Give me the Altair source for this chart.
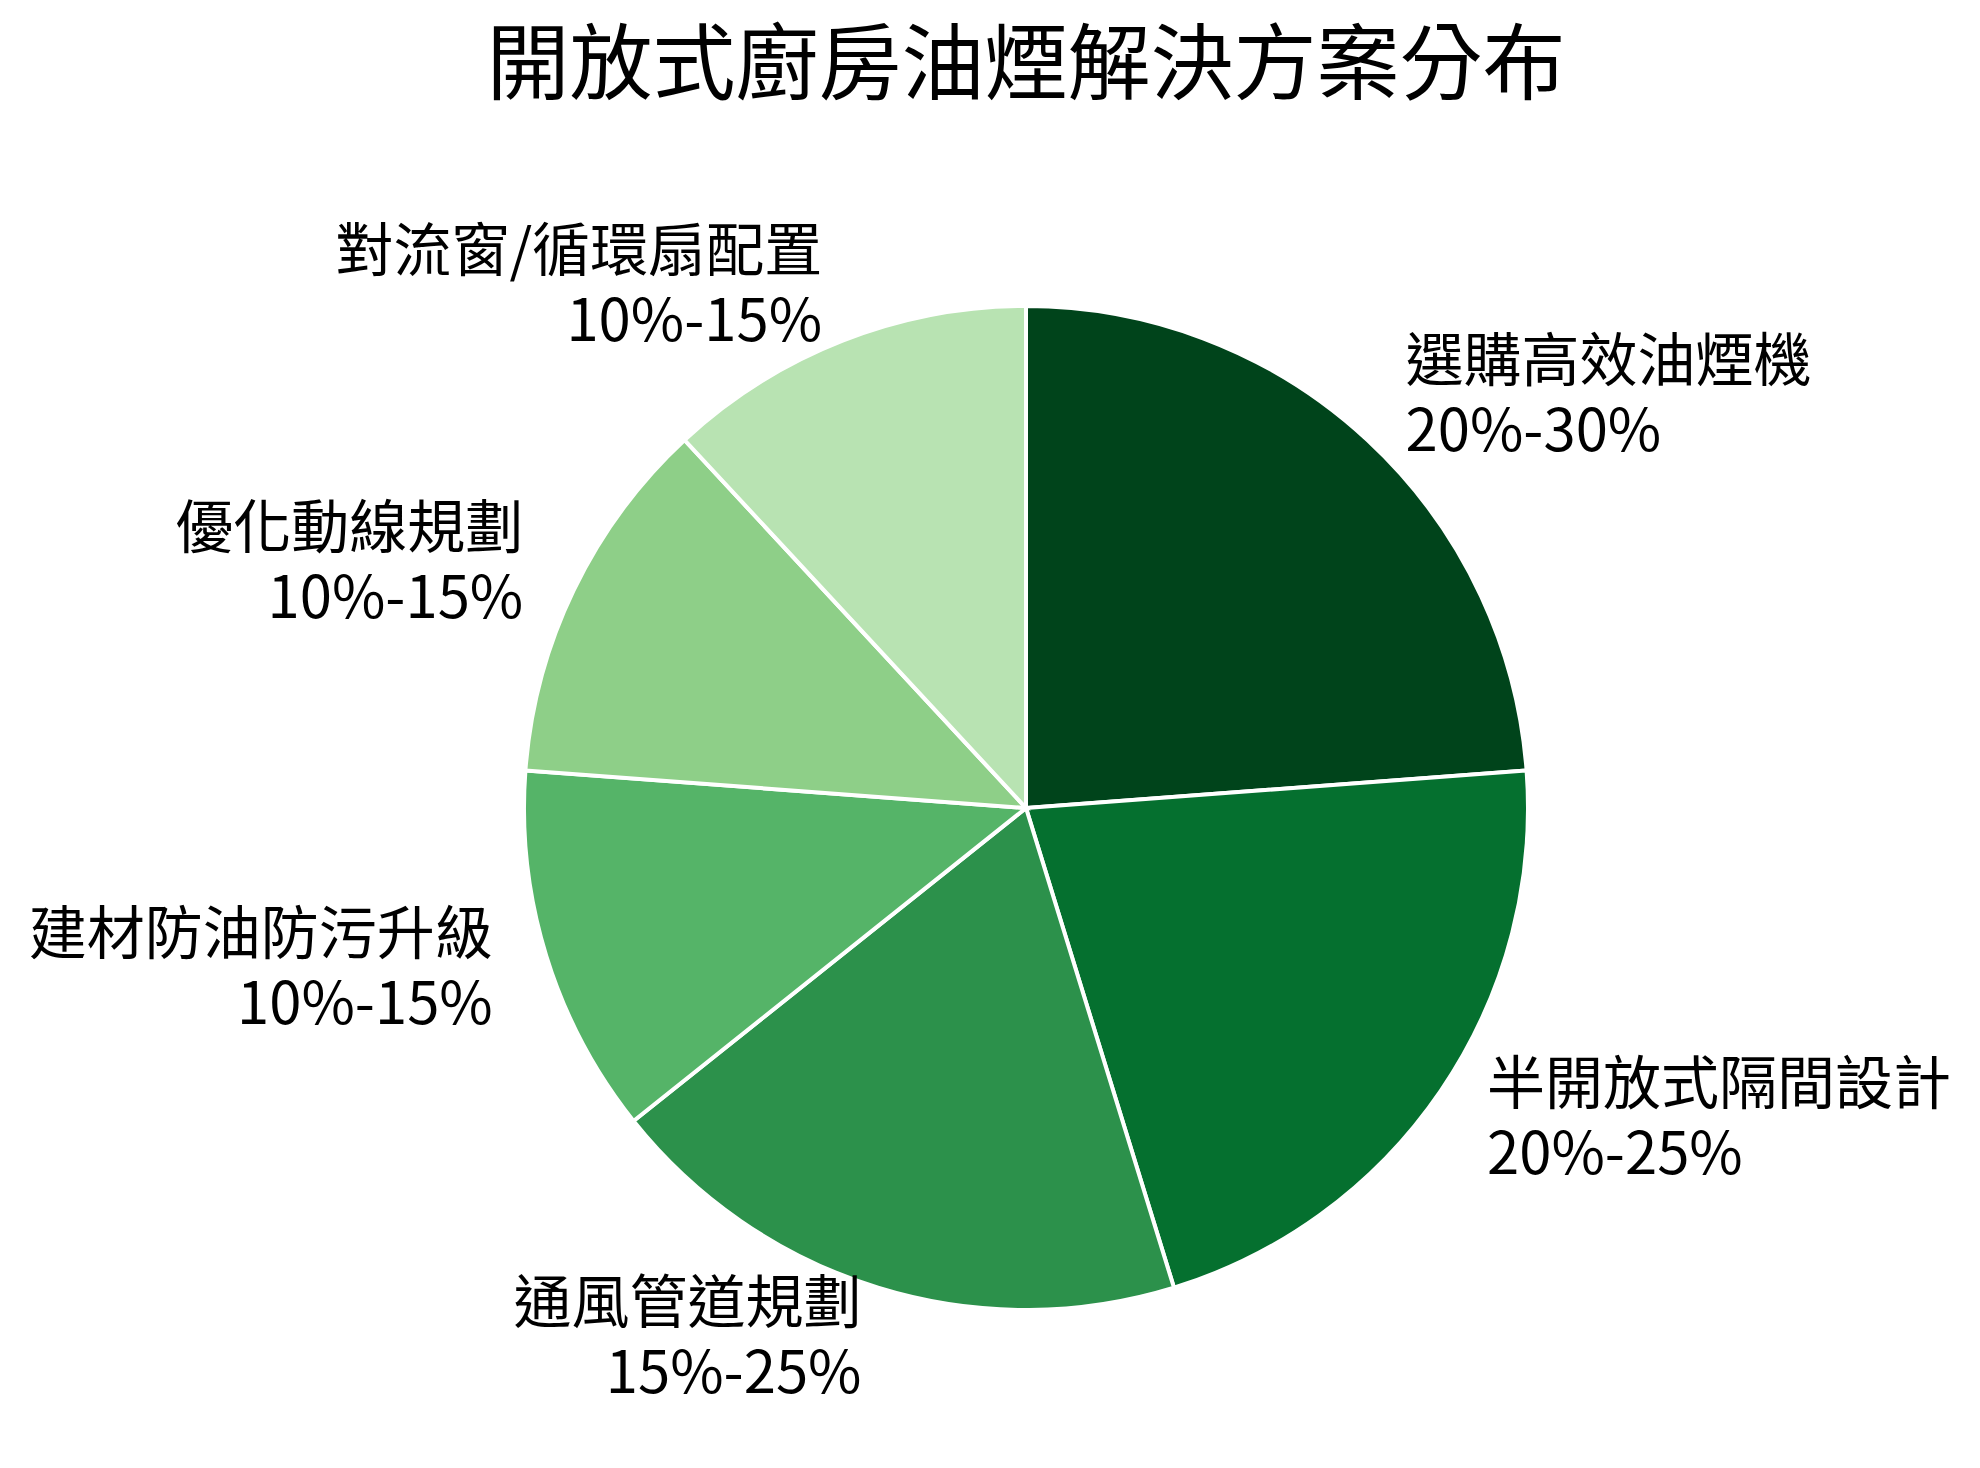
import altair as alt
import pandas as pd

FONT = "Noto Sans CJK TC"

labels = [
    "選購高效油煙機",
    "半開放式隔間設計",
    "通風管道規劃",
    "建材防油防污升級",
    "優化動線規劃",
    "對流窗/循環扇配置",
]
ranges = ["20%-30%", "20%-25%", "15%-25%", "10%-15%", "10%-15%", "10%-15%"]
# slice sizes = middle of each range
values = [25, 22.5, 20, 12.5, 12.5, 12.5]
colors = ["#00441b", "#05702f", "#2c914b", "#55b468", "#8ecf88", "#b8e3b2"]

df = pd.DataFrame(
    {"label": labels, "range": ranges, "value": values, "order": list(range(len(labels)))}
)

base = alt.Chart(df)

pie = base.mark_arc(outerRadius=502, stroke="white", strokeWidth=4).encode(
    alt.Theta("value:Q", stack=True),
    alt.Color("label:N", scale=alt.Scale(domain=labels, range=colors), legend=None),
    alt.Order("order:Q"),
)

text = (
    base.transform_window(
        cum="sum(value)", sort=[alt.SortField("order")], frame=[None, 0]
    )
    .transform_joinaggregate(total="sum(value)")
    .transform_calculate(
        ang="2 * PI * (datum.cum - datum.value / 2) / datum.total",
        txt="datum.label + '\\n' + datum.range",
    )
    .mark_text(
        radius=558,
        lineBreak="\n",
        lineHeight=70,
        fontSize=58,
        font=FONT,
        color="black",
        baseline="middle",
        dy=-35,
        align={"expr": "datum.ang > PI ? 'right' : 'left'"},
    )
    .encode(alt.Theta("ang:Q", scale=None), alt.Text("txt:N"))
)

chart = (
    alt.layer(pie, text)
    .properties(
        width=1000,
        height=1000,
        title=alt.TitleParams(
            "開放式廚房油煙解決方案分布",
            font=FONT,
            fontSize=83,
            fontWeight="normal",
            color="black",
            anchor="middle",
            frame="group",
            baseline="alphabetic",
            offset=49,
        ),
        autosize=alt.AutoSizeParams(type="none"),
        padding={"left": 518, "top": 300, "right": 446, "bottom": 152},
    )
    .configure_view(stroke=None)
)

chart.save("out.html", embed_options={"renderer": "svg", "actions": False})
